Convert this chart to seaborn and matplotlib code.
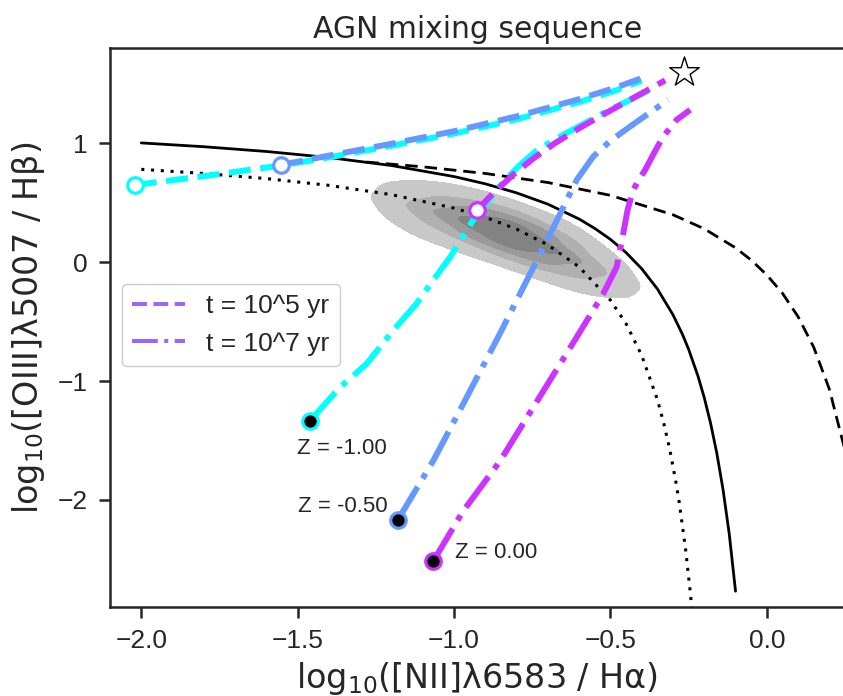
import numpy as np
import pandas as pd
import matplotlib
matplotlib.use("Agg")
import matplotlib.pyplot as plt
import seaborn as sns
from matplotlib.lines import Line2D

# ---------------- data ----------------
# demarcation curves
solid_x = [-2.0, -1.8, -1.6, -1.4, -1.2, -1.0, -0.9, -0.8, -0.7, -0.6, -0.55, -0.5, -0.45, -0.4,
           -0.35, -0.3, -0.27, -0.25, -0.22, -0.2, -0.18, -0.16, -0.14, -0.12, -0.1]
solid_y = [1.002, 0.970, 0.930, 0.879, 0.812, 0.719, 0.658, 0.582, 0.487, 0.362, 0.283, 0.191, 0.080, -0.056,
           -0.225, -0.443, -0.606, -0.733, -0.959, -1.14, -1.352, -1.605, -1.911, -2.288, -2.767]

dashed_x = [-1.28, -1.1, -0.9, -0.7, -0.5, -0.3, -0.2, -0.1, -0.05, 0.0, 0.05, 0.1, 0.15, 0.2, 0.25]
dashed_y = [0.841, 0.801, 0.745, 0.669, 0.561, 0.398, 0.280, 0.120, 0.017, -0.108, -0.262, -0.459, -0.716, -1.069, -1.583]

dotted_x = [-2.0, -1.8, -1.6, -1.4, -1.2, -1.0, -0.9, -0.8, -0.7, -0.6, -0.5, -0.45, -0.4, -0.35, -0.33,
            -0.31, -0.29, -0.28, -0.26, -0.245, -0.236]
dotted_y = [0.780, 0.745, 0.702, 0.645, 0.567, 0.454, 0.377, 0.277, 0.145, -0.041, -0.320, -0.518, -0.784, -1.155, -1.349,
            -1.579, -1.859, -2.021, -2.408, -2.768, -3.02]

# density of galaxies (sample locations and weights)
kde_x = [-1.18, -1.10, -1.02, -0.94, -0.86, -0.78, -0.70, -0.62, -0.54, -0.48,
         -1.18, -1.10, -1.02, -0.94, -0.86, -0.78, -0.70, -0.62, -0.54, -0.48,
         -1.18, -1.10, -1.02, -0.94, -0.86, -0.78, -0.70, -0.62, -0.54, -0.48,
         -1.18, -1.10, -1.02, -0.94, -0.86, -0.78, -0.70, -0.62, -0.54, -0.48,
         -1.18, -1.10, -1.02, -0.94, -0.86, -0.78, -0.70, -0.62, -0.54, -0.48]
kde_y = [0.47, 0.44, 0.39, 0.33, 0.27, 0.20, 0.12, 0.03, -0.07, -0.15,
         0.66, 0.64, 0.60, 0.55, 0.49, 0.42, 0.35, 0.26, 0.15, 0.07,
         0.57, 0.54, 0.50, 0.44, 0.38, 0.31, 0.24, 0.15, 0.04, -0.04,
         0.37, 0.33, 0.28, 0.22, 0.16, 0.09, 0.00, -0.09, -0.18, -0.25,
         0.27, 0.22, 0.17, 0.11, 0.05, -0.02, -0.11, -0.20, -0.28, -0.34]
kde_w = [1.5, 2.3, 3.2, 4.5, 5.5, 5.5, 4.6, 3.3, 2.0, 1.0,
         0.3, 0.5, 0.8, 1.2, 1.5, 1.5, 1.2, 0.7, 0.3, 0.1,
         0.8, 1.4, 2.1, 3.0, 3.8, 3.8, 3.0, 2.1, 1.1, 0.5,
         0.8, 1.4, 2.1, 3.0, 3.8, 3.8, 3.0, 2.1, 1.1, 0.5,
         0.3, 0.5, 0.8, 1.2, 1.5, 1.5, 1.2, 0.7, 0.3, 0.1]

# mixing sequences, t = 10^5 yr (dashed)
t5_zm1_x = [-2.021, -1.80, -1.554, -1.40, -1.20, -1.00, -0.80, -0.60, -0.48, -0.40]
t5_zm1_y = [0.648, 0.722, 0.812, 0.880, 0.978, 1.080, 1.200, 1.345, 1.445, 1.525]
t5_zm05_x = [-1.554, -1.40, -1.20, -1.00, -0.80, -0.60, -0.48, -0.384]
t5_zm05_y = [0.817, 0.895, 0.995, 1.100, 1.225, 1.370, 1.470, 1.562]
t5_z0_x = [-0.927, -0.875, -0.811, -0.747, -0.68, -0.60, -0.52, -0.437, -0.325]
t5_z0_y = [0.437, 0.578, 0.735, 0.870, 0.995, 1.125, 1.245, 1.365, 1.528]

# mixing sequences, t = 10^7 yr (dash-dot)
t7_zm1_x = [-1.461, -1.365, -1.28, -1.195, -1.12, -1.067, -1.012, -0.939, -0.86, -0.80, -0.74, -0.661, -0.58, -0.512, -0.44, -0.373]
t7_zm1_y = [-1.335, -1.054, -0.857, -0.576, -0.35, -0.154, 0.043, 0.353, 0.62, 0.79, 0.93, 1.056, 1.17, 1.267, 1.36, 1.45]
t7_zm05_x = [-1.179, -1.067, -0.971, -0.853, -0.757, -0.66, -0.608, -0.555, -0.50, -0.437, -0.315]
t7_zm05_y = [-2.165, -1.673, -1.194, -0.600, -0.10, 0.41, 0.69, 0.887, 1.02, 1.14, 1.365]
t7_z0_x = [-1.067, -0.971, -0.853, -0.73, -0.608, -0.523, -0.48, -0.462, -0.445, -0.428, -0.41, -0.39, -0.36, -0.331, -0.288, -0.245]
t7_z0_y = [-2.517, -2.094, -1.673, -1.15, -0.632, -0.266, -0.041, 0.20, 0.44, 0.60, 0.69, 0.77, 0.92, 1.056, 1.197, 1.28]

metallicities = [-1.0, -0.5, 0.0]
agn_x = [-0.265]
agn_y = [1.60]
legend_labels = ["t = 10^5 yr", "t = 10^7 yr"]

# ---------------- styling ----------------
sns.set_theme(style="ticks")
plt.rcParams['font.family'] = ['Liberation Sans', 'DejaVu Sans']
plt.rcParams['axes.edgecolor'] = '.15'
plt.rcParams['axes.linewidth'] = 1.8

cool = plt.get_cmap('cool')
track_colors = [cool(0.0), cool(0.4), cool(0.8)]
legend_color = cool(0.6)
kde_colors = ['#c8c8c8', '#b0b0b0', '#999999', '#838383']

fig = plt.figure(figsize=(8.43, 6.96), dpi=100)
ax = fig.add_axes([110 / 843, 89 / 696, 735 / 843, 559 / 696])

# galaxy density
kde_df = pd.DataFrame({"x": kde_x, "y": kde_y, "w": kde_w})
before = list(ax.collections)
sns.kdeplot(data=kde_df, x="x", y="y", weights="w", fill=True, levels=5, thresh=0.05,
            bw_adjust=0.75, cmap='Greys', ax=ax, zorder=1)
for coll in ax.collections:
    if coll not in before:
        coll.set_array(None)
        coll.set_facecolor(kde_colors)
        coll.set_edgecolor('none')

# demarcation lines
sns.lineplot(x=solid_x, y=solid_y, sort=False, estimator=None, color='black', lw=2.0, ax=ax, zorder=3)
sns.lineplot(x=dashed_x, y=dashed_y, sort=False, estimator=None, color='black', lw=2.0,
             linestyle=(0, (4.5, 2.5)), ax=ax, zorder=3)
sns.lineplot(x=dotted_x, y=dotted_y, sort=False, estimator=None, color='black', lw=2.2,
             linestyle=(0, (1, 2.2)), ax=ax, zorder=3)

tracks5 = [(t5_zm1_x, t5_zm1_y), (t5_zm05_x, t5_zm05_y), (t5_z0_x, t5_z0_y)]
tracks7 = [(t7_zm1_x, t7_zm1_y), (t7_zm05_x, t7_zm05_y), (t7_z0_x, t7_z0_y)]

for (x5, y5), (x7, y7), col in zip(tracks5, tracks7, track_colors):
    sns.lineplot(x=x5, y=y5, sort=False, estimator=None, color=col, lw=4.3,
                 linestyle='--', ax=ax, zorder=4)
    sns.lineplot(x=x7, y=y7, sort=False, estimator=None, color=col, lw=4.3,
                 linestyle='-.', ax=ax, zorder=4)

for (x5, y5), (x7, y7), col in zip(tracks5, tracks7, track_colors):
    sns.scatterplot(x=[x5[0]], y=[y5[0]], marker='o', s=125, color='white',
                    edgecolor=col, linewidth=2.3, ax=ax, zorder=6)
    sns.scatterplot(x=[x7[0]], y=[y7[0]], marker='o', s=125, color='black',
                    edgecolor=col, linewidth=2.3, ax=ax, zorder=6)

# labels next to the 10^7 yr starting points
label_offsets = [(-0.04, -0.28), (-0.32, 0.065), (0.07, 0.03)]
for (x7, y7), z, (dx, dy) in zip(tracks7, metallicities, label_offsets):
    ax.text(x7[0] + dx, y7[0] + dy, f"Z = {z:.2f}", fontsize=16, color='.15',
            ha='left', va='baseline', zorder=7)

# AGN point
sns.scatterplot(x=agn_x, y=agn_y, marker='*', s=500, color='white', edgecolor='black',
                linewidth=1.0, ax=ax, zorder=7)

# legend
handles = [Line2D([], [], color=legend_color, lw=2.9, linestyle='--'),
           Line2D([], [], color=legend_color, lw=2.9, linestyle='-.')]
ax.legend(handles, legend_labels, loc='upper left', bbox_to_anchor=(0.016, 0.578),
          borderaxespad=0, fontsize=19, frameon=True, edgecolor='0.8', framealpha=1)

ax.set_xlim(-2.1, 0.25)
ax.set_ylim(-2.9, 1.8)
ax.set_xticks([-2.0, -1.5, -1.0, -0.5, 0.0])
ax.set_yticks([-2, -1, 0, 1])
ax.tick_params(axis='both', labelsize=19, length=8, width=1.8, pad=8, color='.15', labelcolor='.15')
ax.set_xlabel(r"log$_{10}$([NII]λ6583 / Hα)", fontsize=24, color='.15', labelpad=5,
              family='DejaVu Sans')
ax.set_ylabel(r"log$_{10}$([OIII]λ5007 / Hβ)", fontsize=24, color='.15', labelpad=8,
              family='DejaVu Sans')
ax.set_title("AGN mixing sequence", fontsize=21.5, color='.15', pad=7, family='DejaVu Sans')

fig.savefig("out.png", dpi=100)
